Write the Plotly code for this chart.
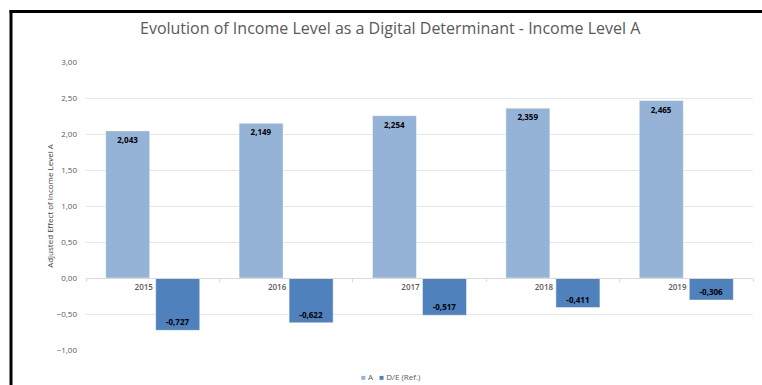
import plotly.graph_objects as go

# Chart data
years = ["2015", "2016", "2017", "2018", "2019"]
level_a = [2.043, 2.149, 2.254, 2.359, 2.465]
level_de_ref = [-0.727, -0.622, -0.517, -0.411, -0.306]

series_names = ["A", "D/E (Ref.)"]
series_colors = ["#95B3D7", "#4F81BD"]

y_min, y_max = -1.0, 3.0
title_text = "Evolution of Income Level as a Digital Determinant - Income Level A"
y_title = "Adjusted Effect of Income Level A"

W, H = 762, 385
ML, MR, MT, MB = 86, 9, 62, 35

fig = go.Figure()
for name, vals, col in zip(series_names, [level_a, level_de_ref], series_colors):
    fig.add_trace(go.Bar(
        name=name,
        x=years,
        y=vals,
        marker=dict(color=col, line=dict(color="rgba(255,255,255,0.45)", width=1)),
        text=[f"{v:.3f}".replace(".", ",") for v in vals],
        textposition="inside",
        insidetextanchor="end",
        textangle=0,
        textfont=dict(family="Open Sans", size=8, color="#000000", weight="bold"),
        cliponaxis=False,
        showlegend=False,
    ))

pw, ph = W - ML - MR, H - MT - MB
def px_to_paper_x(px):
    return (px - ML) / pw
def px_to_paper_y(py):
    return (H - MB - py) / ph

# frame edges along the top and left of the chart
frame = dict(type="line", xref="paper", yref="paper",
             line=dict(color="#000000", width=3), layer="above")
fig.add_shape(**frame, x0=px_to_paper_x(9.5), x1=px_to_paper_x(W),
              y0=px_to_paper_y(11.5), y1=px_to_paper_y(11.5))
fig.add_shape(**frame, x0=px_to_paper_x(11), x1=px_to_paper_x(11),
              y0=px_to_paper_y(10), y1=px_to_paper_y(H))

# compact legend row under the plot: small square swatch followed by the series name
legend_html = "&nbsp;&nbsp;&nbsp;".join(
    f"<span style='color:{c}'>■</span>&nbsp;{n}" for n, c in zip(series_names, series_colors)
)
fig.add_annotation(
    text=legend_html,
    xref="paper", yref="paper",
    x=px_to_paper_x(391), y=px_to_paper_y(376),
    xanchor="center", yanchor="middle",
    showarrow=False,
    font=dict(family="Open Sans", size=8, color="#595959"),
)

fig.update_layout(
    width=W, height=H,
    margin=dict(l=ML, r=MR, t=MT, b=MB, autoexpand=False),
    paper_bgcolor="#ffffff",
    plot_bgcolor="#ffffff",
    separators=",.",
    barmode="group",
    bargap=0.25,
    bargroupgap=0.12,
    uniformtext=dict(minsize=7, mode="show"),
    showlegend=False,
    title=dict(
        text=title_text,
        x=0.512, xanchor="center",
        y=1 - 28 / H, yanchor="middle",
        font=dict(family="Open Sans", size=16, color="#595959"),
    ),
    xaxis=dict(
        type="category",
        anchor="free",
        position=(0 - y_min) / (y_max - y_min),
        showline=True, linecolor="#d9d9d9", linewidth=1,
        showgrid=False,
        tickson="boundaries",
        ticks="outside", ticklen=3, tickcolor="#d9d9d9",
        ticklabelshift=-9,
        ticklabelstandoff=1,
        tickfont=dict(family="Open Sans", size=8, color="#595959", weight=600),
        zeroline=False,
    ),
    yaxis=dict(
        range=[y_min, y_max],
        dtick=0.5,
        tickformat=".2f",
        showgrid=True, gridcolor="#e6e6e6", gridwidth=1,
        zeroline=False,
        showline=False,
        ticks="",
        ticklabelstandoff=8,
        tickfont=dict(family="Open Sans", size=8, color="#595959"),
        title=dict(
            text=y_title,
            standoff=1,
            font=dict(family="Open Sans", size=8, color="#404040"),
        ),
    ),
)

fig.write_html("out.html", config={"displayModeBar": False})
